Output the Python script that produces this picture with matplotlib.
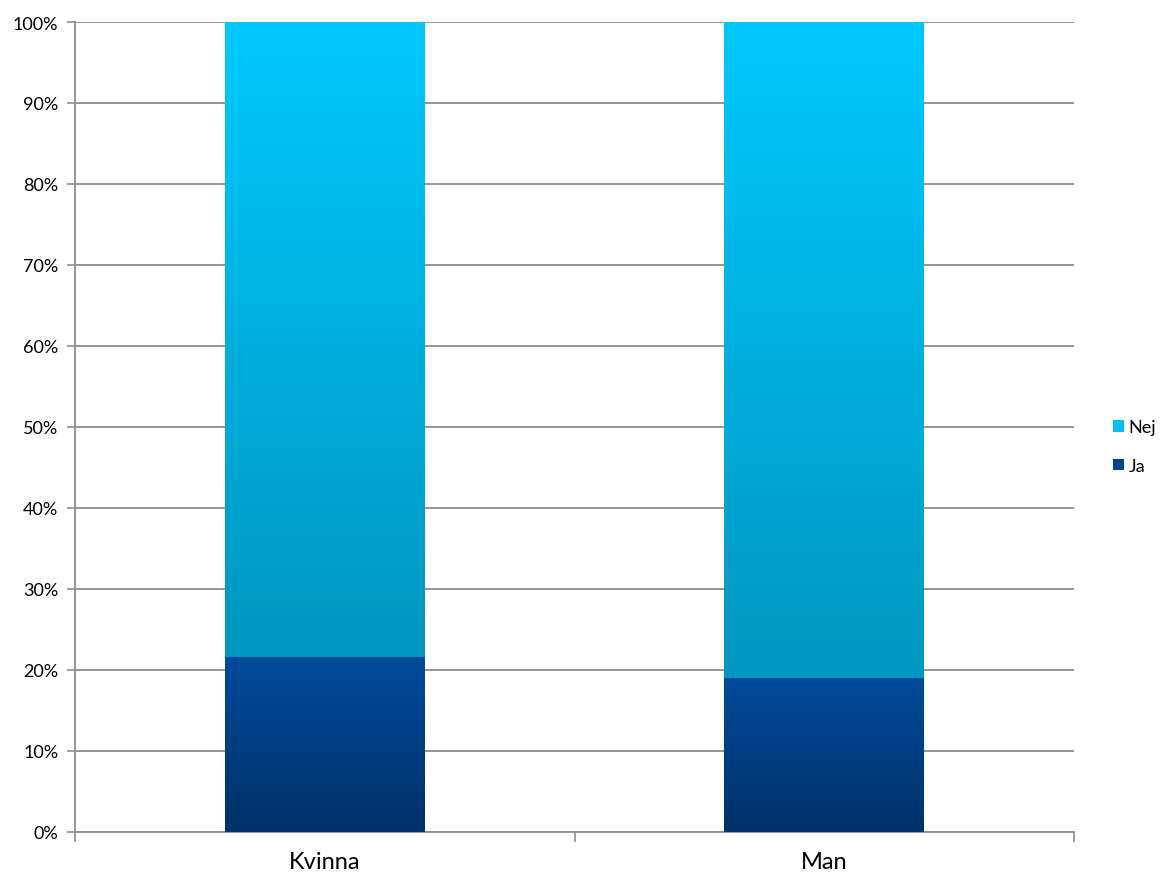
import numpy as np
import matplotlib.pyplot as plt
from matplotlib.colors import LinearSegmentedColormap
from matplotlib.patches import Patch
from matplotlib.ticker import FuncFormatter

plt.rcParams['font.family'] = ['Lato', 'DejaVu Sans']

categories = ['Kvinna', 'Man']
ja = [21.6, 19.0]
nej = [78.4, 81.0]

# gradient colours (bottom -> top) for each series
ja_cols = ['#00316a', '#004b9b']
nej_cols = ['#0096c0', '#00c9ff']

fig = plt.figure(figsize=(11.63, 8.78), dpi=100)
ax = fig.add_axes([0.0645, 0.0513, 0.859, 0.9225])

x = np.arange(len(categories))
b1 = ax.bar(x, ja, width=0.4, color=ja_cols[1], zorder=3)
b2 = ax.bar(x, nej, width=0.4, bottom=ja, color=nej_cols[1], zorder=3)


def shade(bars, cols):
    cmap = LinearSegmentedColormap.from_list('g', cols)
    grad = np.linspace(0, 1, 256).reshape(-1, 1)
    for p in bars:
        x0, y0 = p.get_x(), p.get_y()
        w, h = p.get_width(), p.get_height()
        im = ax.imshow(grad, cmap=cmap, aspect='auto', origin='lower',
                       extent=[x0, x0 + w, y0, y0 + h], zorder=4)
        im.set_clip_path(p)


shade(b1, ja_cols)
shade(b2, nej_cols)

ax.set_xlim(-0.5, 1.5)
ax.set_ylim(0, 100)
ax.set_yticks(np.arange(0, 101, 10))
ax.yaxis.set_major_formatter(FuncFormatter(lambda v, _: '%d%%' % v))
ax.set_xticks(x)
ax.set_xticklabels(categories, fontsize=17)
ax.set_xticks([-0.5, 0.5, 1.5], minor=True)
ax.tick_params(axis='x', which='major', length=0, pad=14)
ax.tick_params(axis='x', which='minor', length=7, color='#8c8c8c', width=1.2)
ax.tick_params(axis='y', length=6, color='#8c8c8c', width=1.2, labelsize=13, pad=6)
ax.grid(axis='y', color='#8c8c8c', linewidth=1.3, zorder=1)
ax.set_axisbelow(True)
for s in ['top', 'right']:
    ax.spines[s].set_visible(False)
for s in ['left', 'bottom']:
    ax.spines[s].set_color('#8c8c8c')
    ax.spines[s].set_linewidth(1.3)

handles = [Patch(facecolor='#00bff2'), Patch(facecolor='#004488')]
fig.legend(handles, ['Nej', 'Ja'], loc='center left', bbox_to_anchor=(0.957, 0.490),
           frameon=False, fontsize=13, handlelength=0.6, handleheight=0.6,
           handletextpad=0.25, labelspacing=1.25, borderpad=0, borderaxespad=0)

fig.savefig('out.png', dpi=100)
